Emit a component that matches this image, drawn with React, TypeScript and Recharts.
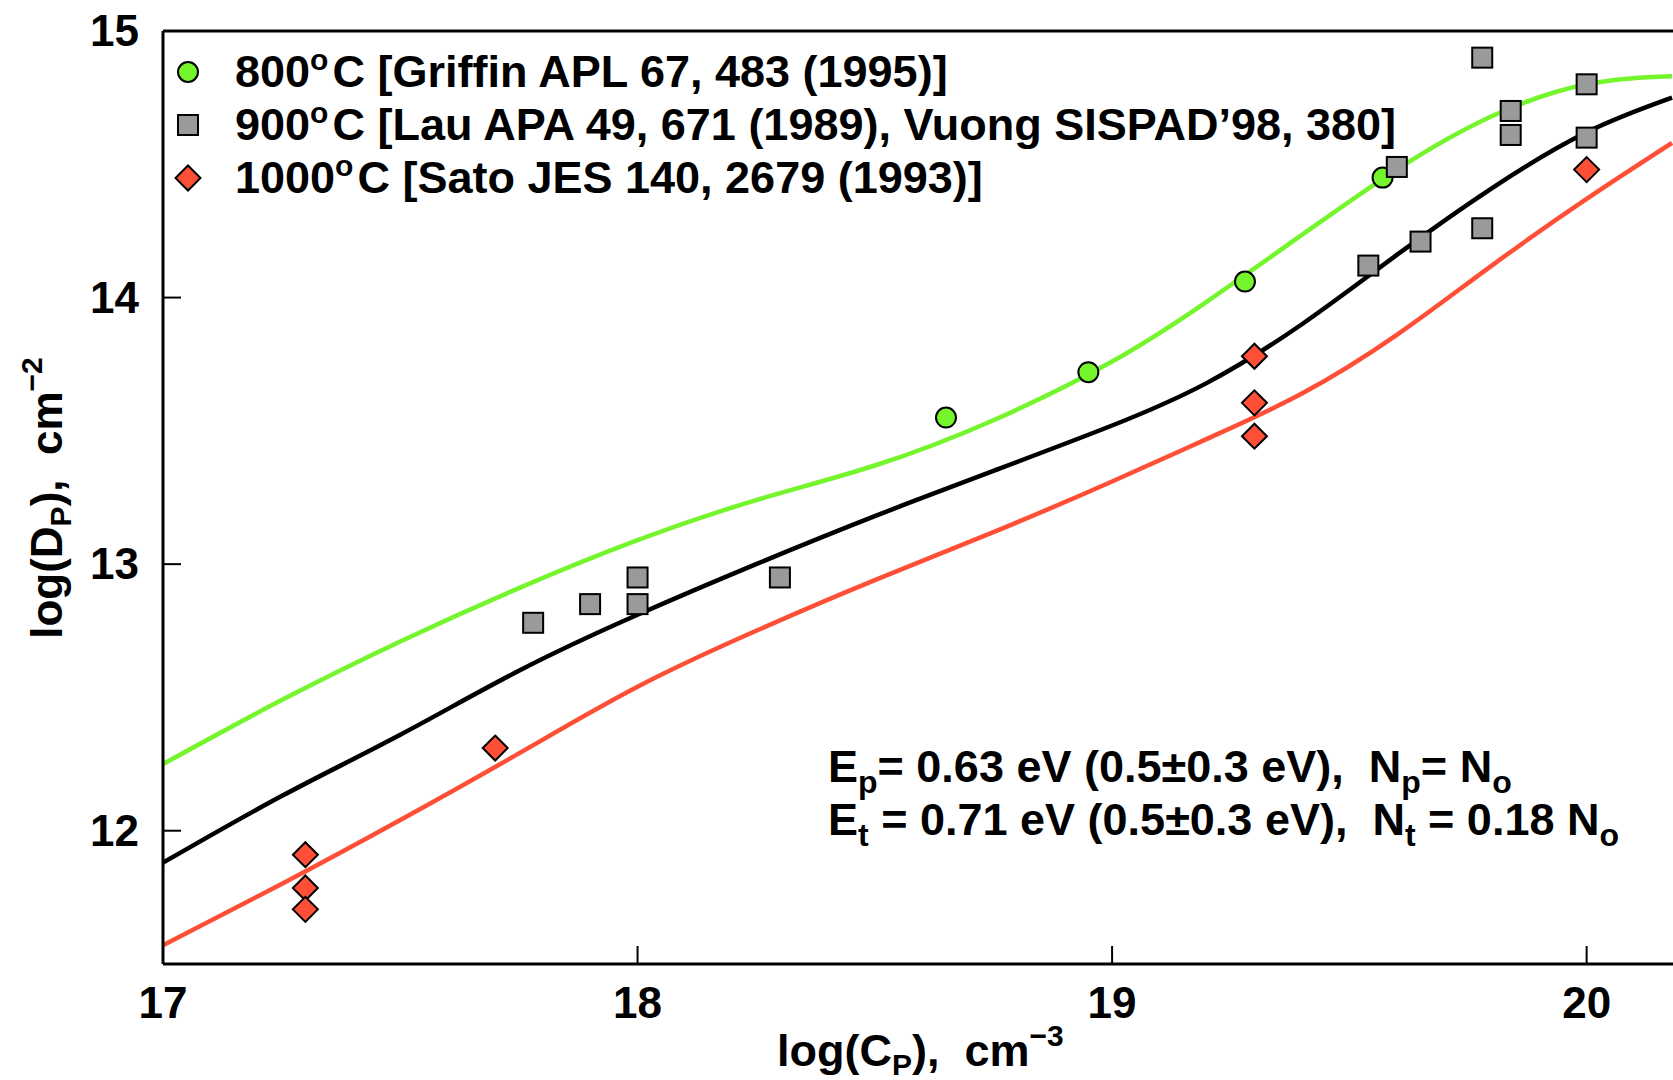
import React from "react";
import {
  ComposedChart,
  Line,
  Scatter,
  XAxis,
  YAxis,
  ReferenceLine,
} from "recharts";

// model curves, x = log(C_P)
const curveX = [
  17.0, 17.25, 17.5, 17.75, 18.0, 18.25, 18.5, 18.75, 19.0, 19.2, 19.4, 19.6,
  19.8, 20.0, 20.18,
];
const green800 = [
  12.25, 12.49, 12.71, 12.91, 13.09, 13.24, 13.37, 13.54, 13.76, 13.985,
  14.235, 14.48, 14.68, 14.8, 14.83,
];
const black900 = [
  11.88, 12.13, 12.36, 12.6, 12.81, 13.0, 13.18, 13.35, 13.52, 13.68, 13.9,
  14.16, 14.41, 14.62, 14.75,
];
const red1000 = [
  11.57, 11.8, 12.04, 12.29, 12.54, 12.75, 12.94, 13.12, 13.31, 13.47, 13.64,
  13.86, 14.12, 14.37, 14.58,
];

// measured points
const griffinX = [18.65, 18.95, 19.28, 19.57];
const griffinY = [13.55, 13.72, 14.06, 14.45];
const lauX = [17.78, 17.9, 18.0, 18.0, 18.3, 19.54, 19.6, 19.65, 19.78, 19.78, 19.84, 19.84, 20.0, 20.0];
const lauY = [12.78, 12.85, 12.95, 12.85, 12.95, 14.12, 14.49, 14.21, 14.9, 14.26, 14.7, 14.61, 14.8, 14.6];
const satoX = [17.3, 17.3, 17.3, 17.7, 19.3, 19.3, 19.3, 20.0];
const satoY = [11.91, 11.785, 11.705, 12.31, 13.78, 13.605, 13.48, 14.48];

const xTicks = [17, 18, 19, 20];
const yTicks = [12, 13, 14, 15];

const pairs = (xs: number[], ys: number[]) => xs.map((x, i) => ({ x, y: ys[i] }));

const FONT = "'Liberation Sans', Arial, sans-serif";
const GREEN = "#74f52c";
const RED = "#ff4f36";
const GRAY = "#9a9a9a";

const Circle = ({ cx, cy }: any) => (
  <circle cx={cx} cy={cy} r={10} fill={GREEN} stroke="#000" strokeWidth={2} />
);
const Square = ({ cx, cy }: any) => (
  <rect x={cx - 10} y={cy - 10} width={20} height={20} fill={GRAY} stroke="#000" strokeWidth={2} />
);
const Diamond = ({ cx, cy }: any) => (
  <path
    d={`M${cx},${cy - 12.5} L${cx + 12.5},${cy} L${cx},${cy + 12.5} L${cx - 12.5},${cy} Z`}
    fill={RED}
    stroke="#000"
    strokeWidth={2}
  />
);

const XTick = ({ x, y, payload }: any) => (
  <g>
    <line x1={x} x2={x} y1={y} y2={y - 18} stroke="#000" strokeWidth={2} />
    <text x={x} y={y + 54} textAnchor="middle" fontSize={44} fontWeight="bold" fontFamily={FONT} fill="#000">
      {payload.value}
    </text>
  </g>
);

const YTick = ({ x, y, payload }: any) => (
  <g>
    <line x1={x} x2={x + 18} y1={y} y2={y} stroke="#000" strokeWidth={2} />
    <text x={x - 24} y={y + 15} textAnchor="end" fontSize={44} fontWeight="bold" fontFamily={FONT} fill="#000">
      {payload.value}
    </text>
  </g>
);

const legendRows = [
  { shape: Circle, num: "800", ref: "[Griffin APL 67, 483 (1995)]", y: 72 },
  { shape: Square, num: "900", ref: "[Lau APA 49, 671 (1989), Vuong SISPAD\u201998, 380]", y: 125 },
  { shape: Diamond, num: "1000", ref: "[Sato JES 140, 2679 (1993)]", y: 178 },
];

const Overlay = () => (
  <svg
    width={1673}
    height={1080}
    style={{ position: "absolute", left: 0, top: 0, pointerEvents: "none" }}
    fontFamily={FONT}
    fontWeight="bold"
    fill="#000"
  >
    {legendRows.map((r) => {
      const S = r.shape;
      return (
        <g key={r.num}>
          <S cx={188} cy={r.y} />
          <text x={235} y={r.y + 15} fontSize={45}>
            {r.num}
            <tspan fontSize={30} dy={-17}>o</tspan>
            <tspan fontSize={45} dy={17} dx={4}>{"C " + r.ref}</tspan>
          </text>
        </g>
      );
    })}

    <text x={828} y={782} fontSize={45}>
      E<tspan fontSize={32} dy={11}>p</tspan>
      <tspan dy={-11}>{"= 0.63 eV (0.5\u00b10.3 eV),\u00a0\u00a0N"}</tspan>
      <tspan fontSize={32} dy={11}>p</tspan>
      <tspan dy={-11}>{"= N"}</tspan>
      <tspan fontSize={32} dy={11}>o</tspan>
    </text>
    <text x={828} y={835} fontSize={45}>
      E<tspan fontSize={32} dy={11}>t</tspan>
      <tspan dy={-11}>{" = 0.71 eV (0.5\u00b10.3 eV),\u00a0\u00a0N"}</tspan>
      <tspan fontSize={32} dy={11}>t</tspan>
      <tspan dy={-11}>{" = 0.18 N"}</tspan>
      <tspan fontSize={32} dy={11}>o</tspan>
    </text>

    <text x={777} y={1066} fontSize={45}>
      log(C<tspan fontSize={30} dy={9}>P</tspan>
      <tspan dy={-9}>{"),\u00a0\u00a0cm"}</tspan>
      <tspan fontSize={30} dy={-20}>{"\u22123"}</tspan>
    </text>

    <text transform="translate(62,498) rotate(-90)" textAnchor="middle" fontSize={44}>
      log(D<tspan fontSize={30} dy={9}>P</tspan>
      <tspan dy={-9}>{"),\u00a0\u00a0cm"}</tspan>
      <tspan fontSize={30} dy={-20}>{"\u22122"}</tspan>
    </text>
  </svg>
);

export default function App() {
  return (
    <div style={{ position: "absolute", left: 0, top: 0, width: 1673, height: 1080, background: "#fff" }}>
      <ComposedChart width={1673} height={1080} margin={{ top: 31, right: 0, left: 0, bottom: 0 }}>
        <XAxis
          type="number"
          dataKey="x"
          domain={[17, 20.182]}
          allowDataOverflow
          ticks={xTicks}
          tickSize={0}
          tickMargin={0}
          tickLine={false}
          tick={<XTick />}
          height={116}
          axisLine={{ stroke: "#000", strokeWidth: 3 }}
        />
        <YAxis
          type="number"
          dataKey="y"
          domain={[11.5, 15]}
          allowDataOverflow
          ticks={yTicks}
          tickSize={0}
          tickMargin={0}
          tickLine={false}
          tick={<YTick />}
          width={163}
          axisLine={{ stroke: "#000", strokeWidth: 3 }}
        />
        <ReferenceLine y={15} stroke="#000" strokeWidth={3} />
        <Line data={pairs(curveX, green800)} dataKey="y" type="natural" stroke={GREEN} strokeWidth={4.5} dot={false} isAnimationActive={false} />
        <Line data={pairs(curveX, black900)} dataKey="y" type="natural" stroke="#000" strokeWidth={4.5} dot={false} isAnimationActive={false} />
        <Line data={pairs(curveX, red1000)} dataKey="y" type="natural" stroke={RED} strokeWidth={4.5} dot={false} isAnimationActive={false} />
        <Scatter data={pairs(griffinX, griffinY)} dataKey="y" shape={Circle} isAnimationActive={false} />
        <Scatter data={pairs(lauX, lauY)} dataKey="y" shape={Square} isAnimationActive={false} />
        <Scatter data={pairs(satoX, satoY)} dataKey="y" shape={Diamond} isAnimationActive={false} />
      </ComposedChart>
      <Overlay />
    </div>
  );
}
